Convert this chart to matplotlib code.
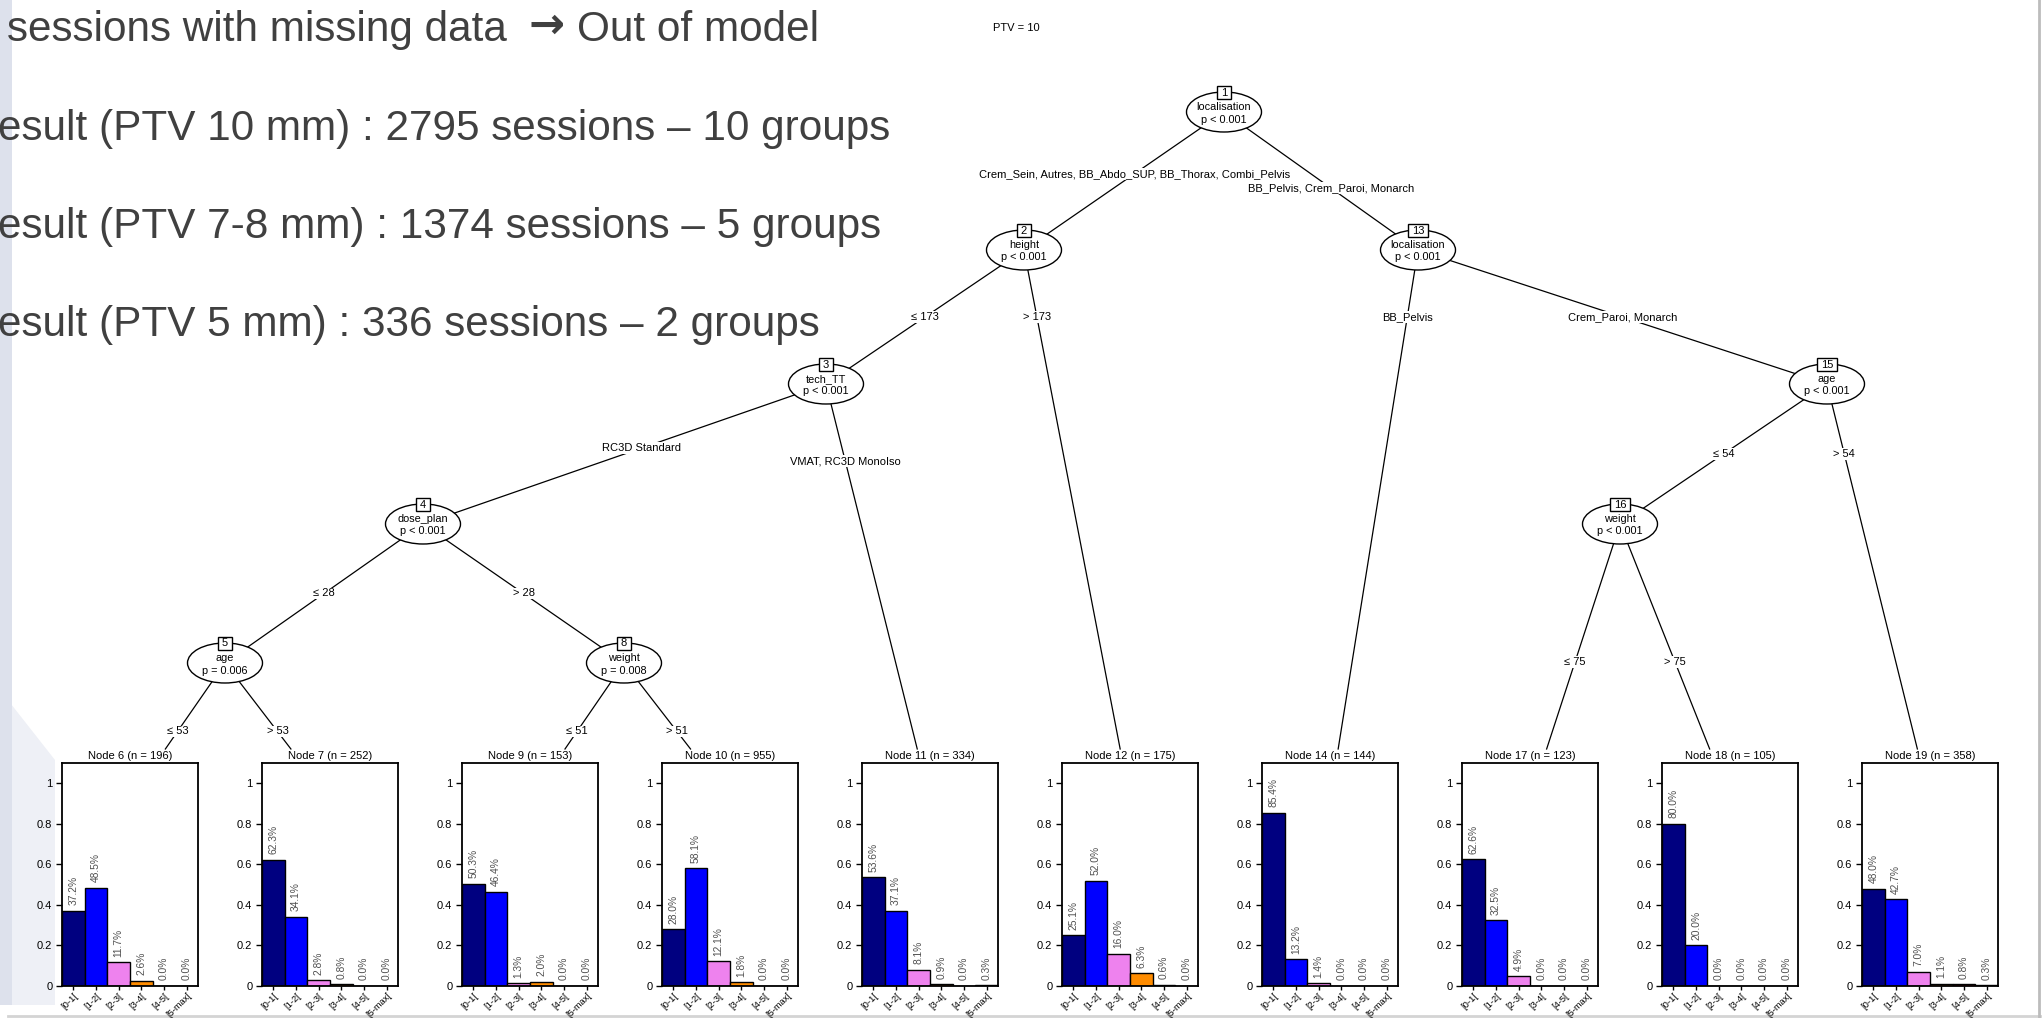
import matplotlib
matplotlib.use("Agg")
import matplotlib.pyplot as plt
from matplotlib.patches import Ellipse, Rectangle, Polygon
import numpy as np

W, H, DPI = 2042, 1018, 100
SANS = ["Liberation Sans", "DejaVu Sans"]

# ---------------------------------------------------------------- slide text
intro_first = ("sessions with missing data", "\u2192", "Out of model")
intro_lines = [
    "esult (PTV 10 mm) : 2795 sessions \u2013 10 groups",
    "esult (PTV 7-8 mm) : 1374 sessions \u2013 5 groups",
    "esult (PTV 5 mm) : 336 sessions \u2013 2 groups",
]
tree_title = "PTV = 10"

# ---------------------------------------------------------------- tree data
categories = ["[0-1[", "[1-2[", "[2-3[", "[3-4[", "[4-5[", "[5-max["]
bar_colors = ["#000080", "#0000FF", "#EE82EE", "#FF8C00", "#FF0000", "#000000"]

# inner nodes: id -> (split variable, p-value text)
inner_nodes = {
    1: ("localisation", "p < 0.001"),
    2: ("height", "p < 0.001"),
    3: ("tech_TT", "p < 0.001"),
    4: ("dose_plan", "p < 0.001"),
    5: ("age", "p = 0.006"),
    8: ("weight", "p = 0.008"),
    13: ("localisation", "p < 0.001"),
    15: ("age", "p < 0.001"),
    16: ("weight", "p < 0.001"),
}

# edges: (parent, child, split label)
edges = [
    (1, 2, "Crem_Sein, Autres, BB_Abdo_SUP, BB_Thorax, Combi_Pelvis"),
    (1, 13, "BB_Pelvis, Crem_Paroi, Monarch"),
    (2, 3, "\u2264 173"),
    (2, 12, "> 173"),
    (3, 4, "RC3D Standard"),
    (3, 11, "VMAT, RC3D MonoIso"),
    (4, 5, "\u2264 28"),
    (4, 8, "> 28"),
    (5, 6, "\u2264 53"),
    (5, 7, "> 53"),
    (8, 9, "\u2264 51"),
    (8, 10, "> 51"),
    (13, 14, "BB_Pelvis"),
    (13, 15, "Crem_Paroi, Monarch"),
    (15, 16, "\u2264 54"),
    (15, 19, "> 54"),
    (16, 17, "\u2264 75"),
    (16, 18, "> 75"),
]

# terminal nodes: class proportions (%) per node
terminal_ids = [6, 7, 9, 10, 11, 12, 14, 17, 18, 19]
terminal_n = [196, 252, 153, 955, 334, 175, 144, 123, 105, 358]
node6 = [37.2, 48.5, 11.7, 2.6, 0.0, 0.0]
node7 = [62.3, 34.1, 2.8, 0.8, 0.0, 0.0]
node9 = [50.3, 46.4, 1.3, 2.0, 0.0, 0.0]
node10 = [28.0, 58.1, 12.1, 1.8, 0.0, 0.0]
node11 = [53.6, 37.1, 8.1, 0.9, 0.0, 0.3]
node12 = [25.1, 52.0, 16.0, 6.3, 0.6, 0.0]
node14 = [85.4, 13.2, 1.4, 0.0, 0.0, 0.0]
node17 = [62.6, 32.5, 4.9, 0.0, 0.0, 0.0]
node18 = [80.0, 20.0, 0.0, 0.0, 0.0, 0.0]
node19 = [48.0, 42.7, 7.0, 1.1, 0.8, 0.3]
terminal_props = [node6, node7, node9, node10, node11, node12,
                  node14, node17, node18, node19]

# ---------------------------------------------------------------- layout (pixels)
inner_pos = {
    1: (1224, 112), 2: (1024, 250), 13: (1418, 250),
    3: (826, 384), 15: (1827, 384),
    4: (423, 524), 16: (1620, 524),
    5: (225, 663), 8: (624, 663),
}
TERM_X0, TERM_DX = 130, 200
TERM_Y = 800          # anchor of terminal edges
TERM_TOP = 749        # top of terminal viewport
PANEL_W, PANEL_TOP, PANEL_BOT = 136, 763, 986
ELL_W, ELL_H = 75, 40
# labels of long splits are staggered up/down
stagger = {1: (-7, 7), 3: (-6, 7)}

term_x = {tid: TERM_X0 + TERM_DX * k for k, tid in enumerate(terminal_ids)}


def node_xy(nid):
    if nid in inner_pos:
        return inner_pos[nid]
    return (term_x[nid], TERM_Y)


def x_at(p, c, y):
    (x0, y0), (x1, y1) = p, c
    return x0 + (x1 - x0) * (y - y0) / (y1 - y0)


fig = plt.figure(figsize=(W / DPI, H / DPI), dpi=DPI)
fig.patch.set_facecolor("white")
ax = fig.add_axes([0, 0, 1, 1])
ax.set_xlim(0, W)
ax.set_ylim(H, 0)
ax.axis("off")
fig.canvas.draw()
renderer = fig.canvas.get_renderer()

# slide decoration
ax.add_patch(Polygon([(0, 690), (55, 760), (55, 1005), (0, 1005)],
                     closed=True, facecolor="#eef0f6", edgecolor="none", zorder=0))
ax.add_patch(Rectangle((0, 0), 12, 1005, facecolor="#dde1ec", edgecolor="none", zorder=0))
ax.plot([8, W], [1016, 1016], color="#d4d4d4", lw=2.0, zorder=0)
ax.plot([2039, 2039], [0, H], color="#bcbcbc", lw=2.0, zorder=0)

# slide text
TXT = dict(fontsize=30.4, color="#404040", va="baseline", ha="left", zorder=5)
t = ax.text(7, 41, intro_first[0], family=SANS, **TXT)
x_end = t.get_window_extent(renderer=renderer).x1
ta = ax.text(x_end + 22, 38, intro_first[1], family=["DejaVu Sans"],
             fontweight="bold", **{**TXT, "fontsize": 31})
x_end = ta.get_window_extent(renderer=renderer).x1
ax.text(x_end + 12, 41, intro_first[2], family=SANS, **TXT)
for s, y in zip(intro_lines, [140, 238, 336]):
    ax.text(-2, y, s, family=SANS, **TXT)

ax.text(1016, 28, tree_title, fontsize=8, ha="center", va="center", family=SANS)

# edges and their labels
children = {}
for p, c, lab in edges:
    children.setdefault(p, []).append((c, lab))

for p, kids in children.items():
    pxy = inner_pos[p]
    ymin_child = min(node_xy(c)[1] for c, _ in kids)
    ylab = (pxy[1] + ymin_child) / 2
    for j, (c, lab) in enumerate(kids):
        cxy = node_xy(c)
        if c in inner_pos:
            end = cxy
        else:
            end = (x_at(pxy, cxy, TERM_TOP), TERM_TOP)
        ax.plot([pxy[0], end[0]], [pxy[1], end[1]], color="black", lw=0.9, zorder=1)
        yl = ylab + (stagger[p][j] if p in stagger else 0)
        xl = x_at(pxy, cxy, yl)
        ax.text(xl, yl, lab, fontsize=8, ha="center", va="center", family=SANS,
                zorder=3, bbox=dict(facecolor="white", edgecolor="none", pad=0.6))

# inner nodes
for nid, (var, ptxt) in inner_nodes.items():
    x, y = inner_pos[nid]
    ax.add_patch(Ellipse((x, y), ELL_W, ELL_H, facecolor="white",
                         edgecolor="black", lw=1.0, zorder=4))
    ax.text(x, y - 5, var, fontsize=7.8, ha="center", va="center", family=SANS, zorder=5)
    ax.text(x, y + 7.5, ptxt, fontsize=7.8, ha="center", va="center", family=SANS, zorder=5)
    bw = 8 + 6 * len(str(nid))
    ax.add_patch(Rectangle((x - bw / 2, y - ELL_H / 2 - 6), bw, 13, facecolor="white",
                           edgecolor="black", lw=1.0, zorder=6))
    ax.text(x, y - ELL_H / 2 + 0.5, str(nid), fontsize=8, ha="center", va="center",
            family=SANS, zorder=7)

# terminal bar plots
xpos = np.arange(1, len(categories) + 1)
for tid, n, props in zip(terminal_ids, terminal_n, terminal_props):
    cx = term_x[tid]
    ax.text(cx, 756, f"Node {tid} (n = {n})", fontsize=8, ha="center", va="center",
            family=SANS)
    axp = fig.add_axes([(cx - PANEL_W / 2) / W, 1 - PANEL_BOT / H,
                        PANEL_W / W, (PANEL_BOT - PANEL_TOP) / H])
    vals = np.array(props) / 100.0
    axp.bar(xpos, vals, width=1.0, color=bar_colors, edgecolor="black", lw=1.0)
    axp.set_xlim(0.5, len(categories) + 0.5)
    axp.set_ylim(0, 1.1)
    axp.set_yticks([0, 0.2, 0.4, 0.6, 0.8, 1.0])
    axp.set_yticklabels(["0", "0.2", "0.4", "0.6", "0.8", "1"], fontsize=8, family=SANS)
    axp.set_xticks(xpos)
    axp.set_xticklabels(categories, rotation=45, ha="right", va="top",
                        rotation_mode="anchor", fontsize=6.7, family=SANS)
    axp.tick_params(axis="y", direction="out", length=4.5, width=1.0, pad=2.5)
    axp.tick_params(axis="x", direction="out", length=3.2, width=1.0, pad=0.6)
    for sp in axp.spines.values():
        sp.set_linewidth(1.3)
    for xi, v, pct in zip(xpos, vals, props):
        axp.annotate(f"{pct:.1f}%", (xi, v), xytext=(0, 4), textcoords="offset points",
                     rotation=90, ha="center", va="bottom", fontsize=7.4,
                     color="#505050", family=SANS)

fig.savefig("out.png", dpi=DPI, facecolor="white")
